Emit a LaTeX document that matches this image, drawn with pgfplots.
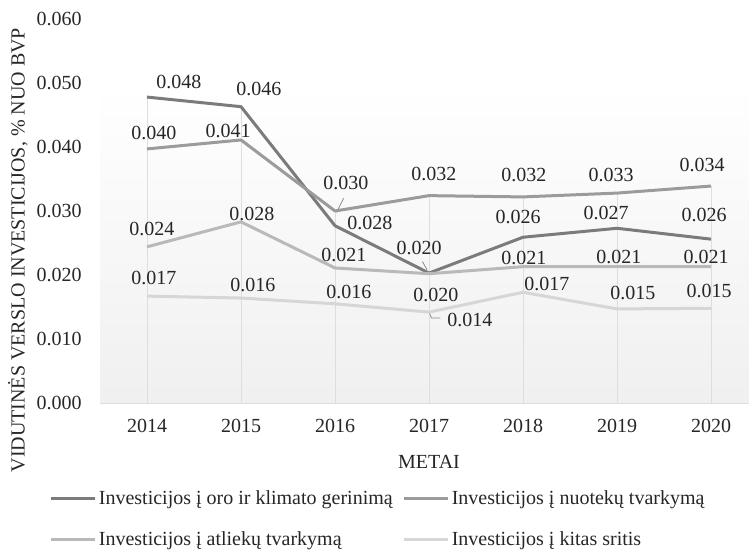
\documentclass[border=0pt]{standalone}
\usepackage{fontspec}
\setmainfont{Liberation Serif}
\usepackage{pgfplots}
\usepackage{pgfplotstable}
\pgfplotsset{compat=1.18}

\definecolor{cOro}{HTML}{7B7B7B}
\definecolor{cNuo}{HTML}{9B9B9B}
\definecolor{cAtl}{HTML}{B9B9B9}
\definecolor{cKit}{HTML}{D6D6D6}
\definecolor{cGrid}{HTML}{DEDEDE}

% x y dx dy  (dx, dy = label offset in px)
\pgfplotstableread{
x    y      dx  dy
2014 0.0478 32  15
2015 0.0463 18  18
2016 0.0277 35  3
2017 0.0203 -10 25
2018 0.0259 -5  20
2019 0.0273 -11 15
2020 0.0256 -7  24
}\oro
\pgfplotstableread{
x    y      dx  dy
2014 0.0397 7   16
2015 0.0411 -13 9
2016 0.0300 11  28
2017 0.0324 5   22
2018 0.0322 1   22
2019 0.0328 -6  18
2020 0.0339 -9  21
}\nuotekos
\pgfplotstableread{
x    y      dx  dy
2014 0.0244 5   18
2015 0.0283 11  8
2016 0.0211 9   13
2017 0.0202 7   -21
2018 0.0213 1   9
2019 0.0213 2   10
2020 0.0213 -5  10
}\atliekos
\pgfplotstableread{
x    y      dx  dy
2014 0.0167 7   18
2015 0.0164 12  13
2016 0.0155 14  12
2017 0.0142 41  -8
2018 0.0173 24  8
2019 0.0147 16  16
2020 0.0148 -2  17
}\kitas

\pgfplotsset{
  /pgf/number format/assume math mode=true,
  ln/.style={line width=2.25pt, line join=round, forget plot},
  lbl/.style={
    draw=none, forget plot,
    point meta=explicit,
    nodes near coords={\pgfmathprintnumber[fixed,fixed zerofill,precision=3]{\pgfplotspointmeta}},
    every node near coord/.append style={anchor=center, text=black!85, inner sep=0pt},
  },
}

\begin{document}
\fontsize{15}{18}\selectfont
\begin{tikzpicture}
\begin{axis}[
  name=ax,
  set layers,
  scale only axis,
  width=493.5pt, height=288pt,
  xmin=2013.5, xmax=2020.5,
  ymin=0, ymax=0.06,
  xtick={2014,2015,2016,2017,2018,2019,2020},
  ytick={0,0.01,0.02,0.03,0.04,0.05,0.06},
  scaled y ticks=false,
  yticklabel style={xshift=-8.5pt, /pgf/number format/.cd, fixed, fixed zerofill, precision=3},
  xticklabel style={yshift=-7pt, /pgf/number format/1000 sep={}},
  tick label style={text=black!85},
  major tick length=0pt,
  axis x line*=bottom, axis y line*=left,
  x axis line style={draw=cGrid, line width=0.75pt, -},
  y axis line style={draw=none},
  clip=false,
  xlabel={METAI},
  xlabel style={at={(axis description cs:0.5,0)}, anchor=center, yshift=-44.25pt, text=black!85},
  ylabel={VIDUTINĖS VERSLO INVESTICIJOS, \% NUO BVP},
  ylabel style={at={(axis description cs:-0.1246,0.398)}, anchor=center, text=black!85},
  legend style={at={(axis description cs:-0.0836,-0.213)}, anchor=north west,
    draw=none, fill=none, legend columns=2, row sep=14pt,
    nodes={inner sep=2pt, text=black!85},
    /tikz/every even column/.append style={column sep=5pt}},
  legend cell align=left,
  legend image code/.code={\draw[#1] (0pt,0pt) -- (33pt,0pt);},
]
\begin{pgfonlayer}{axis background}
  \shade[top color=white, bottom color=black!6]
    (rel axis cs:0,0) rectangle (rel axis cs:1,0.828);
\end{pgfonlayer}

\addlegendimage{cOro, line width=2.25pt}
\addlegendentry{Investicijos į oro ir klimato gerinimą}
\addlegendimage{cNuo, line width=2.25pt}
\addlegendentry{Investicijos į nuotekų tvarkymą}
\addlegendimage{cAtl, line width=2.25pt}
\addlegendentry{Investicijos į atliekų tvarkymą}
\addlegendimage{cKit, line width=2.25pt}
\addlegendentry{Investicijos į kitas sritis}

% drop lines
\addplot[ycomb, draw=cGrid, line width=0.6pt, forget plot] coordinates {
  (2014,0.0478) (2015,0.0463) (2016,0.0300) (2017,0.0324)
  (2018,0.0322) (2019,0.0328) (2020,0.0339)
};

% leader lines
\draw[black!45, line width=0.6pt] (axis cs:2016.93,0.0221) -- (axis cs:2016.98,0.0208);
\draw[black!45, line width=0.6pt] (axis cs:2016.018,0.0298) -- (axis cs:2016.092,0.0320);
\draw[black!45, line width=0.6pt] (axis cs:2017.005,0.01406) -- (axis cs:2017.026,0.01328) -- (axis cs:2017.12,0.01328);

\addplot[ln, color=cOro] table[x=x, y=y] {\oro};
\addplot[ln, color=cNuo] table[x=x, y=y] {\nuotekos};
\addplot[ln, color=cAtl] table[x=x, y=y] {\atliekos};
\addplot[ln, color=cKit] table[x=x, y=y] {\kitas};

% labels: data point shifted by (dx,dy) px; 94.17 px per year, 6400 px per unit
\addplot[lbl] table[x expr=\thisrow{x}+\thisrow{dx}/94.17, y expr=\thisrow{y}+\thisrow{dy}/6400, meta=y] {\oro};
\addplot[lbl] table[x expr=\thisrow{x}+\thisrow{dx}/94.17, y expr=\thisrow{y}+\thisrow{dy}/6400, meta=y] {\nuotekos};
\addplot[lbl] table[x expr=\thisrow{x}+\thisrow{dx}/94.17, y expr=\thisrow{y}+\thisrow{dy}/6400, meta=y] {\atliekos};
\addplot[lbl] table[x expr=\thisrow{x}+\thisrow{dx}/94.17, y expr=\thisrow{y}+\thisrow{dy}/6400, meta=y] {\kitas};
\end{axis}
\pgfresetboundingbox
\path[use as bounding box] ([shift={(-75pt,-112.5pt)}]ax.south west)
  rectangle ([shift={(486.75pt,302.25pt)}]ax.south west);
\end{tikzpicture}
\end{document}
